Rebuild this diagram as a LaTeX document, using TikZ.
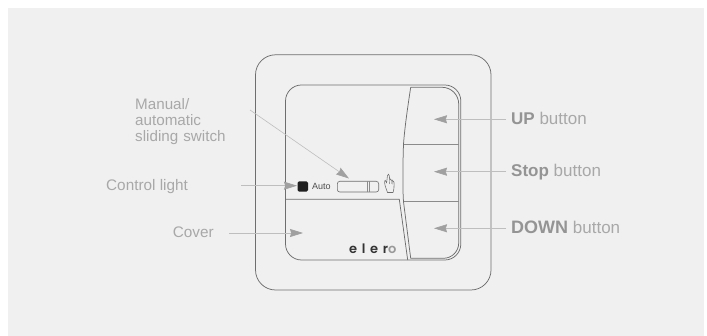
\documentclass[tikz,border=0pt]{standalone}
\usepackage{fontspec}
\setmainfont{Liberation Sans}
\newfontfamily\logofont[LetterSpace=36]{Poppins SemiBold}
\usetikzlibrary{arrows.meta}
\definecolor{bgc}{HTML}{F0F0F0}
\definecolor{linec}{HTML}{6E6E6E}
\definecolor{leadc}{HTML}{BEBEBE}
\definecolor{tipc}{HTML}{A0A0A0}
\definecolor{labc}{HTML}{A8A8A8}
\definecolor{boldc}{HTML}{949494}
\tikzset{
  x=1pt,y=-1pt,
  outline/.style={draw=linec,line width=0.75pt},
  divider/.style={draw=linec!80,line width=0.9pt},
  leader/.style={draw=leadc,line width=0.6pt,-{Stealth[length=13pt,width=8pt,inset=1.2pt,color=tipc]}},
  lab/.style={inner sep=0pt,anchor=base west,text=labc,font=\fontsize{15.3}{16}\selectfont},
  btnlab/.style={inner sep=0pt,anchor=base west,text=labc,font=\fontsize{17}{18}\selectfont},
  small/.style={inner sep=0pt,anchor=base west,text=linec!70!black,font=\fontsize{9}{10}\selectfont},
}
\begin{document}
\begin{tikzpicture}
\useasboundingbox (0,0) rectangle (707,336);
\fill[white] (0,0) rectangle (707,336);
\fill[bgc] (8,8) rectangle (704,336);
% housing
\draw[outline,rounded corners=20pt] (255.5,54.8) rectangle (491,290);
\draw[outline,rounded corners=16pt] (285.5,85) rectangle (460.8,260);
% button block
\draw[outline] (410.7,87.3) -- (442,87.3) arc[start angle=-90,end angle=0,radius=16.7] -- (458.7,243) arc[start angle=0,end angle=90,radius=15.3] -- (410.7,258.3)
  -- (403.5,201.7) .. controls (402.8,193) and (402.6,170) .. (403.5,144) .. controls (405,125) and (408,105) .. (410.7,87.3);
\draw[divider] (403.5,144) -- (458.7,144);
\draw[divider] (404,201.7) -- (458.7,201.7);
% cover
\draw[outline] (285.5,199.3) -- (399.3,199.3) -- (407.7,260);
% control light
\node[fill=black!88,rounded corners=1.5pt,minimum width=10.4pt,minimum height=10.4pt,inner sep=0pt] (lamp) at (302.8,186.5) {};
\node[small] (auto) at (312,190) {Auto};
% switch
\draw[draw=linec,line width=0.6pt,rounded corners=2.5pt] (337.3,181.3) rectangle (378.7,192);
\draw[draw=linec!80,line width=0.6pt] (367.3,181.3) -- (367.3,192) (368.8,181.3) -- (368.8,192);
% hand
\draw[draw=linec,line width=0.55pt,line join=round,fill=bgc]
  (387.5,192.5) .. controls (386.5,189) and (384.6,186) .. (384.6,182)
  .. controls (384.6,180) and (385.4,179.5) .. (386,181.5) -- (386.6,183)
  -- (387.4,176) .. controls (387.5,173.5) and (389.3,173.5) .. (389.4,176)
  -- (389.6,180) .. controls (390,178.5) and (391,178.5) .. (391.2,180.5)
  .. controls (391.7,179.5) and (392.6,179.5) .. (392.8,181.5)
  .. controls (393.3,180.8) and (394.1,181) .. (394.1,183)
  .. controls (394.2,186) and (394,190) .. (393,192.5) -- cycle;
\draw[draw=linec,line width=0.4pt] (389.5,180) -- (389.6,184) (391.2,180.5) -- (391.2,184) (392.8,181.5) -- (392.8,184.5);
% logo
\node[inner sep=0pt,anchor=base west,text=black!80,font=\logofont\fontsize{13}{14}\selectfont] (logo) at (349,254) {eler\textcolor{black!40}{o}};
% labels
\node[lab,align=left,anchor=north west,text width=110pt,font=\fontsize{15.2}{15.9}\selectfont] (manual) at (135,98) {Manual/\\automatic\\sliding switch};
\node[lab] (control) at (106,191) {Control light};
\node[lab] (cover) at (172.7,238) {Cover};
\node[btnlab] (up) at (511,124.5) {\textcolor{boldc}{\textbf{UP}} button};
\node[btnlab] (stop) at (511,177) {\textcolor{boldc}{\textbf{Stop}} button};
\node[btnlab] (down) at (511,233.5) {\textcolor{boldc}{\fontsize{18}{18}\selectfont\textbf{DOWN}} button};
% leader ends
\coordinate (mS) at (250,110);
\coordinate (mT) at (349,178.5);
\coordinate (cS) at (241,185.7);
\coordinate (cT) at (297,185.7);
\coordinate (vS) at (229,233);
\coordinate (vT) at (303,233);
\coordinate (uS) at (506,119.3);
\coordinate (uT) at (434,119.3);
\coordinate (sS) at (506,171.7);
\coordinate (sT) at (434,171.7);
\coordinate (dS) at (506,228.3);
\coordinate (dT) at (434,228.3);
\draw[leader] (mS) -- (mT);
\draw[leader] (cS) -- (cT);
\draw[leader] (vS) -- (vT);
\draw[leader] (uS) -- (uT);
\draw[leader] (sS) -- (sT);
\draw[leader] (dS) -- (dT);
\end{tikzpicture}
\end{document}
